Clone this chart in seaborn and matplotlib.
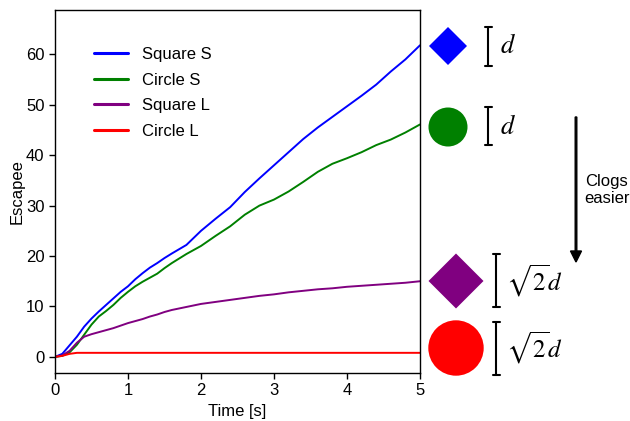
import numpy as np
import pandas as pd
import matplotlib
matplotlib.use("Agg")
import matplotlib.pyplot as plt
from matplotlib.patches import Circle, Polygon, FancyArrow
import seaborn as sns

# Cumulative number of escaped particles over time
time_s = [0, 0.1, 0.2, 0.3, 0.4, 0.5, 0.6, 0.7, 0.8, 0.9, 1.0, 1.1, 1.2, 1.3, 1.4, 1.5,
          1.6, 1.8, 2.0, 2.2, 2.4, 2.6, 2.8, 3.0, 3.2, 3.4, 3.6, 3.8, 4.0, 4.2, 4.4,
          4.6, 4.8, 5.0]
square_s = [0, 0.6, 2.3, 4.0, 6.0, 7.6, 9.0, 10.3, 11.6, 12.9, 14.0, 15.4, 16.6, 17.7, 18.6, 19.6,
            20.5, 22.2, 25.0, 27.4, 29.7, 32.7, 35.4, 38.0, 40.6, 43.2, 45.5, 47.6, 49.7, 51.8, 54.0,
            56.6, 59.0, 61.8]
circle_s = [0, 0.2, 0.9, 2.4, 4.4, 6.4, 8.0, 9.1, 10.3, 11.7, 12.9, 14.0, 14.9, 15.7, 16.5, 17.6,
            18.6, 20.4, 22.0, 24.0, 25.9, 28.2, 30.0, 31.2, 32.8, 34.7, 36.7, 38.3, 39.4, 40.6, 42.0,
            43.1, 44.5, 46.1]
square_l = [0, 0.3, 1.2, 2.8, 4.0, 4.5, 4.9, 5.3, 5.7, 6.2, 6.7, 7.1, 7.5, 8.0, 8.4, 8.9,
            9.3, 9.9, 10.5, 10.9, 11.3, 11.7, 12.1, 12.4, 12.8, 13.1, 13.4, 13.6, 13.9, 14.1, 14.3,
            14.5, 14.7, 15.0]
circle_l = [0, 0.2, 0.6, 0.8, 0.8, 0.8, 0.8, 0.8, 0.8, 0.8, 0.8, 0.8, 0.8, 0.8, 0.8, 0.8,
            0.8, 0.8, 0.8, 0.8, 0.8, 0.8, 0.8, 0.8, 0.8, 0.8, 0.8, 0.8, 0.8, 0.8, 0.8,
            0.8, 0.8, 0.8]

series_names = ["Square S", "Circle S", "Square L", "Circle L"]
series_colors = ["blue", "green", "purple", "red"]
series_values = [square_s, circle_s, square_l, circle_l]

x_ticks = [0, 1, 2, 3, 4, 5]
y_ticks = [0, 10, 20, 30, 40, 50, 60]

df = pd.concat(
    [pd.DataFrame({"Time": time_s, "Escapee": v, "Case": n})
     for n, v in zip(series_names, series_values)],
    ignore_index=True,
)

sns.set_style("ticks")
plt.rcParams["font.family"] = ["Liberation Sans", "DejaVu Sans"]
plt.rcParams["mathtext.fontset"] = "stix"
plt.rcParams["text.color"] = "black"
plt.rcParams["axes.labelcolor"] = "black"
plt.rcParams["xtick.color"] = "black"
plt.rcParams["ytick.color"] = "black"

W, H = 630, 421
fig = plt.figure(figsize=(W / 100, H / 100), dpi=100)
ax = fig.add_axes([55 / W, 1 - 373 / H, 365 / W, 363 / H])

sns.lineplot(data=df, x="Time", y="Escapee", hue="Case", hue_order=series_names,
             palette=dict(zip(series_names, series_colors)), linewidth=1.4, ax=ax)

ax.set_xlim(0, 5)
ax.set_ylim(-3.2, 68.8)
ax.set_xticks(x_ticks)
ax.set_yticks(y_ticks)
ax.tick_params(labelsize=12, direction="out", length=4, width=1)
ax.set_xlabel("Time [s]", fontsize=12)
ax.set_ylabel("Escapee", fontsize=12, labelpad=1)
for s in ax.spines.values():
    s.set_linewidth(1.0)
    s.set_color("black")

leg = ax.legend(frameon=False, fontsize=12, loc="upper left",
                bbox_to_anchor=(0.067, 0.939), handlelength=2.0, handletextpad=0.85,
                labelspacing=0.63)
for line in leg.get_lines():
    line.set_linewidth(2.2)

# Overlay in pixel units for the particle sketches on the right
ov = fig.add_axes([0, 0, 1, 1], zorder=5)
ov.set_xlim(0, W)
ov.set_ylim(H, 0)
ov.axis("off")
ov.patch.set_alpha(0)


def diamond(cx, cy, r, color):
    ov.add_patch(Polygon([(cx - r, cy), (cx, cy - r), (cx + r, cy), (cx, cy + r)],
                         closed=True, facecolor=color, edgecolor="none"))


def bracket(x, y0, y1):
    ov.plot([x, x], [y0, y1], color="black", lw=1.5, solid_capstyle="butt")
    ov.plot([x - 3.5, x + 3.5], [y0, y0], color="black", lw=1.5)
    ov.plot([x - 3.5, x + 3.5], [y1, y1], color="black", lw=1.5)


diamond(448, 46, 19, "blue")
ov.add_patch(Circle((448, 127), 19.5, facecolor="green", edgecolor="none"))
diamond(456, 281, 27.5, "purple")
ov.add_patch(Circle((456, 348), 27.7, facecolor="red", edgecolor="none"))

bracket(488, 27, 66)
bracket(488, 107, 145)
bracket(496, 254, 307)
bracket(496, 322, 375)

ov.text(500, 46, r"$d$", fontsize=19, ha="left", va="center")
ov.text(500, 127, r"$d$", fontsize=19, ha="left", va="center")
ov.text(506, 281, r"$\sqrt{2}d$", fontsize=18, ha="left", va="center")
ov.text(506, 348, r"$\sqrt{2}d$", fontsize=18, ha="left", va="center")

ov.add_patch(FancyArrow(576, 117, 0, 134, width=1.6, head_width=11, head_length=11,
                        length_includes_head=False, color="black"))
ov.text(607, 190, "Clogs\neasier", fontsize=12, ha="center", va="center",
        linespacing=1.2)

fig.savefig("out.png", dpi=100)
